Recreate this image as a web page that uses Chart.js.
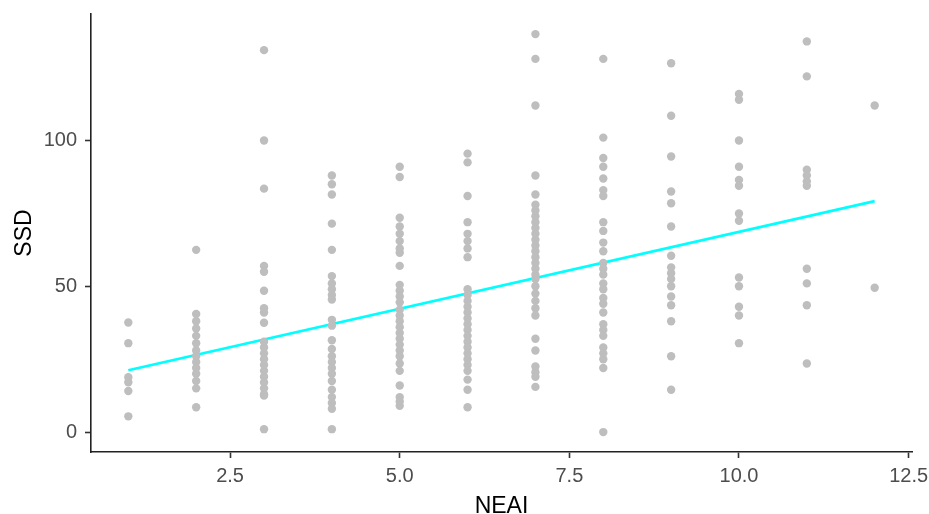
<!DOCTYPE html>
<html>
<head>
<meta charset="utf-8">
<script src="https://cdn.jsdelivr.net/npm/chart.js@4"></script>
<style>
  body { margin: 0; background: #fff; }
  canvas { display: block; }
</style>
</head>
<body>
<canvas id="ssdChart" width="929" height="514"></canvas>
<script>
// SSD values, one array per NEAI score
const ssdAt1 = [37.6, 30.5, 18.8, 17.1, 14.1, 5.4];
const ssdAt2 = [62.5, 40.5, 38, 35.5, 33, 30.5, 28, 26, 24, 22, 20, 17.5, 15, 8.5];
const ssdAt3 = [131, 100, 83.5, 57, 55, 48.5, 42.5, 41, 37.5, 31, 29, 27, 25, 23, 21, 19, 17, 15, 13, 12.5, 1];
const ssdAt4 = [88, 85, 81.5, 71.5, 62.5, 53.5, 51, 49, 47, 45.5, 38.5, 36.5, 31.5, 28.5, 26, 24, 22, 20, 17.5, 14.5, 12, 10, 8, 1];
const ssdAt5 = [91, 87.5, 73.5, 70.5, 68, 65.5, 63, 61.5, 57, 50.5, 48.5, 46.5, 44.5, 42, 40, 38, 36, 34, 32, 30, 28, 26, 23.5, 21, 16, 12, 10.5, 9];
const ssdAt6 = [95.5, 92.5, 81, 72, 68, 65.5, 63, 60, 49, 47, 45, 43, 41, 39, 37, 35, 33, 31, 29, 27, 25, 23, 21, 18, 14.5, 8.5];
const ssdAt7 = [136.5, 128, 112, 88, 81.5, 78, 76, 74, 72, 70, 68, 66, 64, 62, 60, 58, 56, 54, 52.5, 50, 47.5, 45, 42.5, 40, 32, 28, 22.5, 20.5, 19, 15.5];
const ssdAt8 = [128, 101, 94, 91, 87, 83, 81, 72, 69, 65, 62, 58, 56, 54, 51, 49, 46, 44, 41, 37, 35, 33, 29, 27, 25, 22, 0];
const ssdAt9 = [126.5, 108.5, 94.5, 82.5, 78.5, 70.5, 60.5, 56.5, 54.5, 52.5, 50, 46.5, 43.5, 38, 26, 14.5];
const ssdAt10 = [116, 114, 100, 91, 86.5, 84.5, 75, 72.5, 53, 50, 43, 40, 30.5];
const ssdAt11 = [134, 122, 90, 88, 86, 84.5, 56, 51, 43.5, 23.5];
const ssdAt12 = [112, 49.5];

// fitted line ends
const fitX = [1, 12];
const fitY = [21.2, 79.2];

const xTicks = [2.5, 5, 7.5, 10, 12.5];
const yTicks = [0, 50, 100];

const columns = [ssdAt1, ssdAt2, ssdAt3, ssdAt4, ssdAt5, ssdAt6, ssdAt7, ssdAt8, ssdAt9, ssdAt10, ssdAt11, ssdAt12];
const points = [];
columns.forEach((vals, i) => {
    vals.forEach(v => points.push({ x: i + 1, y: v }));
});
const fitLine = fitX.map((x, i) => ({ x: x, y: fitY[i] }));

const font = 'Liberation Sans, Arial, sans-serif';

const ctx = document.getElementById('ssdChart').getContext('2d');
new Chart(ctx, {
    type: 'scatter',
    data: {
        datasets: [{
            data: points,
            backgroundColor: '#bebebe',
            borderWidth: 0,
            pointRadius: 4.2
        }, {
            data: fitLine,
            showLine: true,
            borderColor: '#00ffff',
            borderWidth: 2.7,
            pointRadius: 0
        }]
    },
    options: {
        responsive: false,
        animation: false,
        layout: { padding: { left: 0, right: 17, top: 14, bottom: 0 } },
        plugins: { legend: { display: false }, tooltip: { enabled: false } },
        scales: {
            x: {
                type: 'linear',
                min: 0.45,
                max: 12.55,
                afterBuildTicks: s => { s.ticks = xTicks.map(v => ({ value: v })); },
                afterFit: s => { s.height = 62; s.paddingLeft = 0; s.paddingRight = 0; },
                grid: { color: 'transparent', drawOnChartArea: false, tickColor: '#333', tickLength: 6, tickWidth: 1.6 },
                border: { display: true, color: '#222', width: 1.6 },
                ticks: {
                    color: '#4d4d4d',
                    font: { family: font, size: 20 },
                    padding: 6,
                    maxRotation: 0,
                    callback: v => v.toFixed(1)
                },
                title: {
                    display: true,
                    text: 'NEAI',
                    color: '#000',
                    font: { family: font, size: 23, lineHeight: 1 },
                    padding: { top: 0, bottom: -4 }
                }
            },
            y: {
                type: 'linear',
                min: -6.83,
                max: 143.4,
                afterBuildTicks: s => { s.ticks = yTicks.map(v => ({ value: v })); },
                afterFit: s => { s.width = 91; s.paddingTop = 0; s.paddingBottom = 0; },
                grid: { color: 'transparent', drawOnChartArea: false, tickColor: '#333', tickLength: 6, tickWidth: 1.6 },
                border: { display: true, color: '#222', width: 1.6 },
                ticks: {
                    color: '#4d4d4d',
                    font: { family: font, size: 20 },
                    padding: 8
                },
                title: {
                    display: true,
                    text: 'SSD',
                    color: '#000',
                    font: { family: font, size: 23, lineHeight: 1 },
                    padding: { top: 13, bottom: 0 }
                }
            }
        }
    }
});
</script>
</body>
</html>
